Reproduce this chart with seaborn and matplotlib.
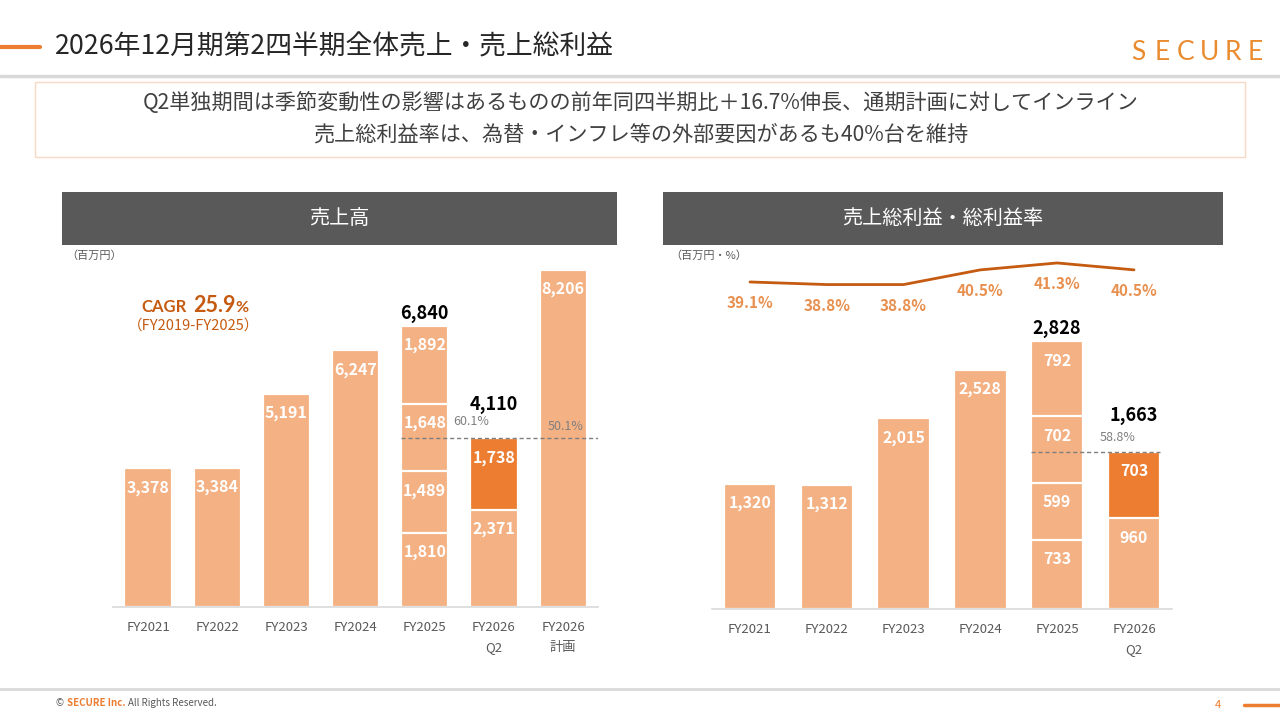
import numpy as np
import pandas as pd
import matplotlib
matplotlib.use("Agg")
import matplotlib.pyplot as plt
import matplotlib.transforms as mtransforms
from matplotlib.patches import Rectangle
from matplotlib.lines import Line2D
import seaborn as sns

# ---- data ----
periods_sales = ["FY2021", "FY2022", "FY2023", "FY2024", "FY2025", "FY2026\nQ2", "FY2026\n計画"]
sales_total = [3378, 3384, 5191, 6247, 6840, 4110, 8206]
sales_fy2025_q = [1810, 1489, 1648, 1892]
sales_fy2026_q = [2371, 1738]
sales_progress = ["60.1%", "50.1%"]

periods_gp = ["FY2021", "FY2022", "FY2023", "FY2024", "FY2025", "FY2026\nQ2"]
gp_total = [1320, 1312, 2015, 2528, 2828, 1663]
gp_fy2025_q = [733, 599, 702, 792]
gp_fy2026_q = [960, 703]
gp_margin = [39.1, 38.8, 38.8, 40.5, 41.3, 40.5]
gp_progress = "58.8%"

LIGHT = "#F4B183"
DARK = "#ED7D31"
DEEP = "#C55A11"
GREY_TXT = "#595959"

sns.set_theme(style="white")
plt.rcParams["font.family"] = ["Noto Sans CJK JP", "DejaVu Sans"]

fig = plt.figure(figsize=(12.8, 7.2), dpi=100)
PX = mtransforms.Affine2D().scale(1 / 1280, -1 / 720).translate(0, 1) + fig.transFigure


def ftext(x, y, s, **kw):
    kw.setdefault("ha", "left")
    kw.setdefault("va", "center")
    fig.text(x, y, s, transform=PX, **kw)


def stacked(ax, periods, totals, q25, q26):
    rows = []
    for p, tot in zip(periods, totals):
        if p == "FY2025":
            segs = q25
        elif p == "FY2026\nQ2":
            segs = q26
        else:
            segs = [tot]
        for k, (v, c) in enumerate(zip(segs, np.cumsum(segs))):
            col = DARK if (p == "FY2026\nQ2" and k == 1) else LIGHT
            rows.append(dict(period=p, level=k, value=v, top=c, color=col))
    df = pd.DataFrame(rows)
    # draw cumulative heights from the top layer down so segments show
    for k in sorted(df["level"].unique(), reverse=True):
        sub = df[df["level"] == k]
        sns.barplot(data=sub, x="period", y="top", hue="period", order=periods,
                    palette=dict(zip(sub["period"], sub["color"])), legend=False,
                    width=0.68, saturation=1, errorbar=None, edgecolor="white",
                    linewidth=1.6, ax=ax)
    for _, r in df.iterrows():
        ax.annotate(f"{r['value']:,}", (periods.index(r["period"]), r["top"]),
                    xytext=(0, -14), textcoords="offset points", ha="center", va="center",
                    color="white", fontsize=11.5, fontweight="bold")
    return df


def style_axis(ax, n):
    ax.set_xlim(-0.5, n - 0.5)
    ax.set_xlabel("")
    ax.set_ylabel("")
    ax.set_yticks([])
    for s in ["left", "top", "right"]:
        ax.spines[s].set_visible(False)
    ax.spines["bottom"].set_color("#D9D9D9")
    ax.spines["bottom"].set_linewidth(1.2)
    ax.tick_params(axis="x", length=0, pad=10, labelsize=9.5, labelcolor=GREY_TXT)
    for t in ax.get_xticklabels():
        t.set_linespacing(1.75)
    ax.set_facecolor("none")


# ---- page decoration ----
fig.add_artist(Line2D([0, 40], [47, 47], transform=PX, color=DARK, lw=3))
fig.add_artist(Line2D([0, 1280], [76, 76], transform=PX, color="#D9D9D9", lw=2.5))
ftext(55, 47, "2026年12月期第2四半期全体売上・売上総利益", fontsize=19.3, color="#262626")
for ch, x in zip("SECURE", [1138, 1162, 1186, 1209, 1233, 1255]):
    ftext(x, 52, ch, ha="center", fontsize=19, color="#E98B2E", family=["Lato", "DejaVu Sans"])

fig.add_artist(Rectangle((35, 82), 1210, 75, transform=PX, fill=False, ec="#F8D9C3", lw=1))
ftext(641, 103, "Q2単独期間は季節変動性の影響はあるものの前年同四半期比＋16.7%伸長、通期計画に対してインライン",
      ha="center", fontsize=15.2, color="#404040")
ftext(641, 135, "売上総利益率は、為替・インフレ等の外部要因があるも40%台を維持",
      ha="center", fontsize=15.2, color="#404040")

fig.add_artist(Rectangle((62, 192), 555, 53, transform=PX, fc="#595959", ec="none"))
fig.add_artist(Rectangle((663, 192), 560, 53, transform=PX, fc="#595959", ec="none"))
ftext(339, 218, "売上高", ha="center", fontsize=14.5, color="white")
ftext(943, 218, "売上総利益・総利益率", ha="center", fontsize=14.5, color="white")
ftext(66, 256, "（百万円）", fontsize=8, color=GREY_TXT)
ftext(670, 256, "（百万円・%）", fontsize=8, color=GREY_TXT)

fig.add_artist(Line2D([0, 1280], [689, 689], transform=PX, color="#D9D9D9", lw=2))
ftext(55, 703, "©", fontsize=7, color=GREY_TXT)
ftext(67, 703, "SECURE Inc.", fontsize=7, color=DARK, fontweight="bold")
ftext(128, 703, "All Rights Reserved.", fontsize=7, color=GREY_TXT)
ftext(1218, 705, "4", ha="center", fontsize=8, color=DARK)
fig.add_artist(Line2D([1244, 1280], [705, 705], transform=PX, color=DARK, lw=2.5))

# ---- left: sales ----
axL = fig.add_axes([113.4 / 1280, (720 - 607) / 720, (597.8 - 113.4) / 1280, 350 / 720])
stacked(axL, periods_sales, sales_total, sales_fy2025_q, sales_fy2026_q)
axL.set_ylim(0, 350 / 0.0411)
style_axis(axL, len(periods_sales))

i25 = periods_sales.index("FY2025")
iq2 = periods_sales.index("FY2026\nQ2")
for i, off in [(i25, 8.6), (iq2, 24.5)]:
    axL.annotate(f"{sales_total[i]:,}", (i, sales_total[i]), xytext=(0, off),
                 textcoords="offset points", ha="center", va="center",
                 fontsize=13, fontweight="bold", color="black")
axL.hlines(sales_total[iq2], i25 - 0.34, len(periods_sales) - 0.5,
           colors="#7F7F7F", linestyles=(0, (3, 2)), lw=1)
axL.annotate(sales_progress[0], (4.67, sales_total[iq2]), xytext=(0, 12),
             textcoords="offset points", ha="center", va="center", fontsize=9, color="#7F7F7F")
axL.annotate(sales_progress[1], (6.03, sales_total[iq2]), xytext=(0, 8.6),
             textcoords="offset points", ha="center", va="center", fontsize=9, color="#7F7F7F")

ftext(141, 312, "CAGR", va="baseline", fontsize=12, fontweight="bold", color=DEEP,
      family=["Lato", "DejaVu Sans"])
ftext(193, 312, "25.9", va="baseline", fontsize=15.5, fontweight="bold", color=DEEP,
      family=["Lato", "DejaVu Sans"])
ftext(235, 312, "%", va="baseline", fontsize=11.5, fontweight="bold", color=DEEP,
      family=["Lato", "DejaVu Sans"])
ftext(194, 326, "（FY2019-FY2025）", ha="center", fontsize=10.5, color=DEEP)

# ---- right: gross profit ----
axR = fig.add_axes([711.6 / 1280, (720 - 609) / 720, (1172.4 - 711.6) / 1280, 352 / 720])
stacked(axR, periods_gp, gp_total, gp_fy2025_q, gp_fy2026_q)
axR.set_ylim(0, 352 / 0.0947)

j25 = periods_gp.index("FY2025")
jq2 = periods_gp.index("FY2026\nQ2")
for i, off in [(j25, 8.8), (jq2, 26)]:
    axR.annotate(f"{gp_total[i]:,}", (i, gp_total[i]), xytext=(0, off),
                 textcoords="offset points", ha="center", va="center",
                 fontsize=13, fontweight="bold", color="black")
axR.hlines(gp_total[jq2], j25 - 0.34, jq2 + 0.34, colors="#7F7F7F",
           linestyles=(0, (3, 2)), lw=1)
axR.annotate(gp_progress, (4.79, gp_total[jq2]), xytext=(0, 10.4),
             textcoords="offset points", ha="center", va="center", fontsize=9, color="#7F7F7F")

ax2 = axR.twinx()
xs = np.arange(len(periods_gp))
sns.lineplot(x=xs, y=gp_margin, ax=ax2, color=DEEP, lw=2)
ax2.set_ylim(1.25, 41.99)
ax2.set_yticks([])
for s in ax2.spines.values():
    s.set_visible(False)
for x, m in zip(xs, gp_margin):
    ax2.annotate(f"{m}%", (x, m), xytext=(0, -15.5), textcoords="offset points",
                 ha="center", va="center", fontsize=11, fontweight="bold", color="#E8904F")

axR.set_xticks(range(len(periods_gp)))
axR.set_xticklabels(periods_gp)
style_axis(axR, len(periods_gp))

fig.savefig("out.png", dpi=100)
